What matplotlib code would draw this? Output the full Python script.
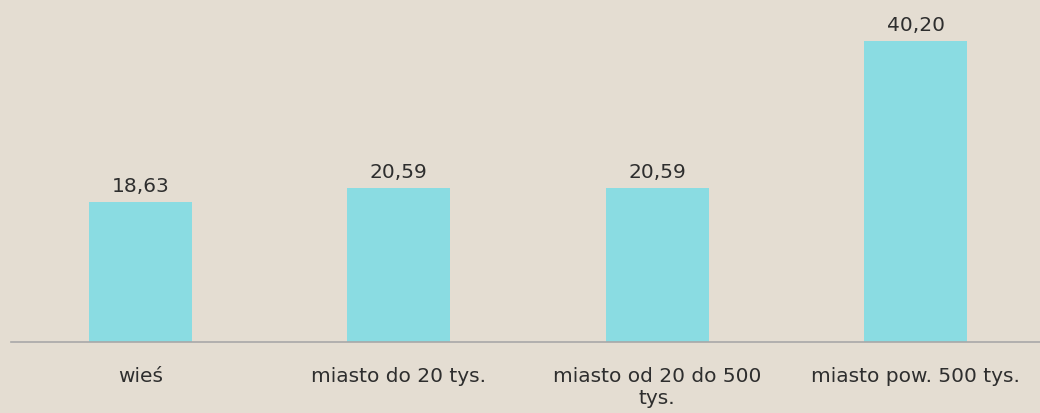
import matplotlib.pyplot as plt

# Dane wykresu
kategorie = ["wieś", "miasto do 20 tys.", "miasto od 20 do 500\ntys.", "miasto pow. 500 tys."]
wartosci = [18.63, 20.59, 20.59, 40.20]

plt.rcParams['font.family'] = ['DejaVu Sans']

tlo = "#E4DDD2"
fig = plt.figure(figsize=(10.40, 4.14), dpi=100, facecolor=tlo)
ax = fig.add_axes([11 / 1040, 71 / 414, 1034 / 1040, 330 / 414])
ax.set_facecolor(tlo)

x = range(len(kategorie))
ax.bar(x, wartosci, width=0.4, color="#8ADCE2")

# Etykiety wartości nad słupkami
for xi, v in zip(x, wartosci):
    ax.annotate(f"{v:.2f}".replace(".", ","), (xi, v), xytext=(0, 5),
                textcoords="offset points", ha="center", va="bottom",
                fontsize=14.5, color="#2E2E2E")

ax.set_xlim(-0.5, 3.5)
ax.set_ylim(0, 44)
ax.set_xticks(list(x))
ax.set_xticklabels(kategorie, fontsize=14.5, color="#2E2E2E", linespacing=1.25)
ax.tick_params(axis="x", length=0, pad=17)
ax.set_yticks([])
for s in ["top", "right", "left"]:
    ax.spines[s].set_visible(False)
ax.spines["bottom"].set_color("#A8A8A8")
ax.spines["bottom"].set_linewidth(1.2)

fig.savefig("out.png", dpi=100, facecolor=tlo)
